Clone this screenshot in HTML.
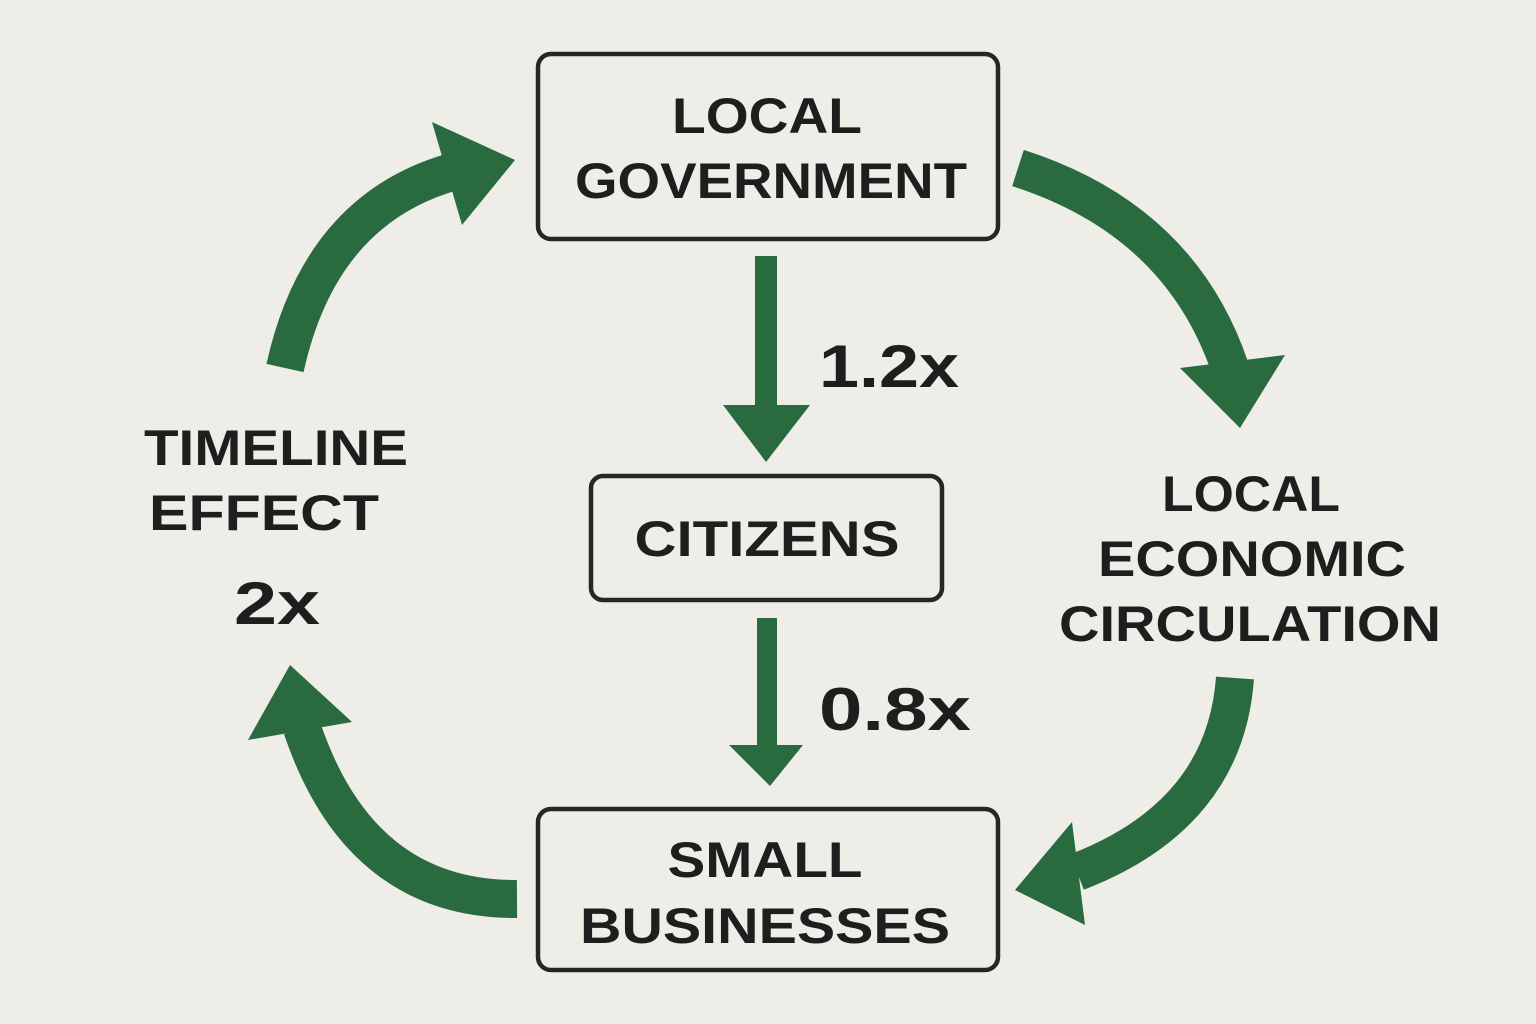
<!DOCTYPE html>
<html><head><meta charset="utf-8"><style>
html,body{margin:0;padding:0;background:#efede8;}
svg{display:block;}
text{font-family:"Liberation Sans",sans-serif;font-weight:bold;fill:#1e1e1e;text-anchor:middle;}
</style></head><body>
<svg width="1536" height="1024" viewBox="0 0 1536 1024" xmlns="http://www.w3.org/2000/svg">
<rect width="1536" height="1024" fill="#efede8"/>
<g fill="none" stroke="#262626" stroke-width="4.5">
<rect x="538" y="54" width="460" height="185" rx="13"/>
<rect x="591" y="476" width="351" height="124" rx="12"/>
<rect x="538" y="809" width="460" height="161" rx="13"/>
</g>
<g font-size="50">
<text x="767" y="133" textLength="190" lengthAdjust="spacingAndGlyphs">LOCAL</text>
<text x="771" y="198" textLength="392" lengthAdjust="spacingAndGlyphs">GOVERNMENT</text>
<text x="767" y="556" textLength="265" lengthAdjust="spacingAndGlyphs">CITIZENS</text>
<text x="765" y="877" textLength="195" lengthAdjust="spacingAndGlyphs">SMALL</text>
<text x="765" y="943" textLength="370" lengthAdjust="spacingAndGlyphs">BUSINESSES</text>
<text x="276" y="465" textLength="264" lengthAdjust="spacingAndGlyphs">TIMELINE</text>
<text x="264" y="530" textLength="230" lengthAdjust="spacingAndGlyphs">EFFECT</text>
<text x="1251" y="511" textLength="178" lengthAdjust="spacingAndGlyphs">LOCAL</text>
<text x="1252" y="576" textLength="308" lengthAdjust="spacingAndGlyphs">ECONOMIC</text>
<text x="1250" y="641" textLength="382" lengthAdjust="spacingAndGlyphs">CIRCULATION</text>
</g>
<g font-size="60">
<text x="277" y="624" textLength="86" lengthAdjust="spacingAndGlyphs">2x</text>
<text x="889" y="387" textLength="140" lengthAdjust="spacingAndGlyphs">1.2x</text>
<text x="895" y="730" textLength="152" lengthAdjust="spacingAndGlyphs">0.8x</text>
</g>
<g fill="#2a6a3f">
<rect x="755" y="256" width="22" height="152"/>
<polygon points="723,405 810,405 766,462"/>
<rect x="757" y="618" width="20" height="130"/>
<polygon points="729,745 803,745 770,786"/>
<polygon points="432,122 515,160 462,225"/>
<polygon points="1180,368 1285,355 1240,428"/>
<polygon points="1072,822 1085,925 1015,890"/>
<polygon points="248,740 352,722 290,665"/>
</g>
<g fill="none" stroke="#2a6a3f" stroke-width="38">
<path d="M285,368 Q320,210 452,172"/>
<path d="M1018,168 Q1180,220 1230,368"/>
<path d="M1235,678 Q1225,815 1077,872"/>
<path d="M517,899 Q360,900 302,728"/>
</g>
</svg>
</body></html>
